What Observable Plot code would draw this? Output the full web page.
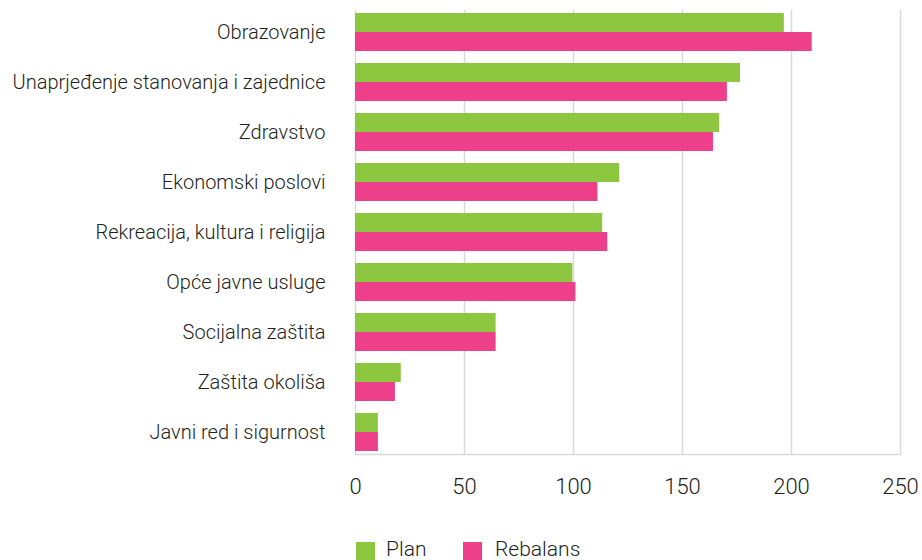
<!DOCTYPE html>
<html>
<head>
<meta charset="utf-8">
<script src="https://cdn.jsdelivr.net/npm/d3@7"></script>
<script src="https://cdn.jsdelivr.net/npm/@observablehq/plot@0.6"></script>
<style>
  html, body { margin: 0; padding: 0; background: #fff; }
  body { position: relative; width: 922px; height: 560px; overflow: hidden; font-family: Roboto, "Noto Sans", sans-serif; font-weight: 300; color: #231f20; }
  #legend { position: absolute; left: 0; top: 538px; width: 922px; height: 30px; font-size: 21px; line-height: 22px; }
  .sw { position: absolute; top: 4px; width: 19px; height: 19px; }
  .lt { position: absolute; top: 0; white-space: nowrap; }
</style>
</head>
<body>
<div id="chart"></div>
<div id="legend"></div>
<script>
const categories = [
  "Obrazovanje",
  "Unaprjeđenje stanovanja i zajednice",
  "Zdravstvo",
  "Ekonomski poslovi",
  "Rekreacija, kultura i religija",
  "Opće javne usluge",
  "Socijalna zaštita",
  "Zaštita okoliša",
  "Javni red i sigurnost"
];
const planValues     = [196.7, 176.6, 167.0, 121.2, 113.4, 99.7, 64.5, 21.0, 10.5];
const rebalansValues = [209.5, 170.6, 164.2, 111.2, 115.7, 101.1, 64.5, 18.3, 10.5];
const seriesNames = ["Plan", "Rebalans"];
const seriesColors = ["#8dc63f", "#ee3f8a"];
const xTicks = [0, 50, 100, 150, 200, 250];

const planData = categories.map((c, i) => ({category: c, value: planValues[i]}));
const rebData = categories.map((c, i) => ({category: c, value: rebalansValues[i]}));

const W = 922, H = 525, mt = 10, mb = H - 454, ml = 355, mr = 22;
const pInner = 0.24, pOuter = 0.06;
const step = (H - mt - mb) / (categories.length - pInner + 2 * pOuter);
const bw = step * (1 - pInner);

const chart = Plot.plot({
  width: W,
  height: H,
  marginTop: mt,
  marginBottom: mb,
  marginLeft: ml,
  marginRight: mr,
  style: {fontFamily: "Roboto, 'Noto Sans', sans-serif", fontWeight: 300, color: "#231f20", background: "#fff"},
  x: {domain: [0, 250], ticks: xTicks},
  y: {domain: categories, paddingInner: pInner, paddingOuter: pOuter},
  marks: [
    Plot.gridX(xTicks, {stroke: "#d9d9d9", strokeOpacity: 1, strokeWidth: 1.5}),
    Plot.frame({anchor: "bottom", stroke: "#d9d9d9", strokeWidth: 1.5}),
    Plot.barX(planData, {y: "category", x: "value", fill: seriesColors[0], insetBottom: bw / 2}),
    Plot.barX(rebData, {y: "category", x: "value", fill: seriesColors[1], insetTop: bw / 2}),
    Plot.axisX(xTicks, {tickSize: 0, tickPadding: 24, fontSize: 22, label: null, tickFormat: d => String(d)}),
    Plot.axisY({tickSize: 0, tickPadding: 30, fontSize: 20, label: null})
  ]
});
document.getElementById("chart").appendChild(chart);

const legend = document.getElementById("legend");
const swatchLeft = [356, 463];
const textLeft = [386, 495];
seriesNames.forEach((n, i) => {
  const sw = document.createElement("span");
  sw.className = "sw";
  sw.style.left = swatchLeft[i] + "px";
  sw.style.background = seriesColors[i];
  legend.appendChild(sw);
  const t = document.createElement("span");
  t.className = "lt";
  t.style.left = textLeft[i] + "px";
  t.textContent = n;
  legend.appendChild(t);
});
</script>
</body>
</html>
